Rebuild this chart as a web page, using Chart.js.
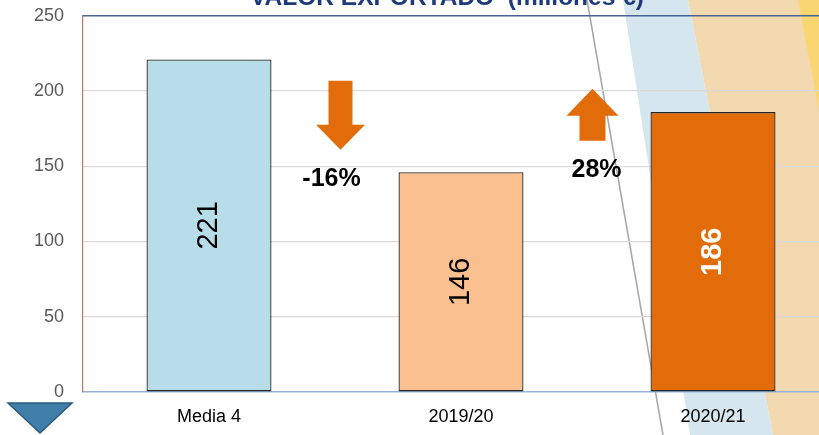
<!DOCTYPE html>
<html>
<head>
<meta charset="utf-8">
<script src="https://cdn.jsdelivr.net/npm/chart.js@4.4.1/dist/chart.umd.min.js"></script>
<style>
  html, body { margin: 0; padding: 0; overflow: hidden; background: #fff; }
  #wrap { position: absolute; left: 0; top: 0; width: 839px; height: 435px; }
</style>
</head>
<body>
<div id="wrap"><canvas id="barCanvas"></canvas></div>
<script>
// valor exportado (millones €)
var categorias = ['Media 4', '2019/20', '2020/21'];
var valores = [221, 146, 186];
var colores = ['#B7DDE8', '#FAC090', '#E36C0A'];
var coloresTexto = ['#000000', '#000000', '#FFFFFF'];
var variaciones = ['-16%', '28%'];
var ticksY = [0, 50, 100, 150, 200, 250];
var titulo = 'VALOR EXPORTADO  (millones €)';

var FONT = '"Liberation Sans", Arial, sans-serif';
var dy = 0; // desplazamiento del canvas para que el area quede en y=16

// fondo decorativo (bandas inclinadas)
var fondoPlugin = {
  id: 'fondo',
  beforeDraw: function (chart) {
    var ctx = chart.ctx;
    ctx.save();
    ctx.translate(0, dy);
    ctx.fillStyle = '#F2D9B0';
    ctx.beginPath();
    ctx.moveTo(688, 0); ctx.lineTo(900, 0); ctx.lineTo(900, 435); ctx.lineTo(773, 435);
    ctx.closePath(); ctx.fill();
    ctx.fillStyle = '#D6E6EE';
    ctx.beginPath();
    ctx.moveTo(623, 0); ctx.lineTo(688, 0); ctx.lineTo(773, 435); ctx.lineTo(690, 435);
    ctx.closePath(); ctx.fill();
    ctx.fillStyle = '#F9D672';
    ctx.beginPath();
    ctx.moveTo(798, 0); ctx.lineTo(900, 0); ctx.lineTo(900, 435); ctx.lineTo(881, 435);
    ctx.closePath(); ctx.fill();
    // linea fina gris
    ctx.strokeStyle = '#A6A6A6';
    ctx.lineWidth = 1.5;
    ctx.beginPath();
    ctx.moveTo(587, 0); ctx.lineTo(663, 435);
    ctx.stroke();
    // titulo (cortado arriba)
    ctx.fillStyle = '#1F3A7A';
    ctx.font = 'bold 24.5px ' + FONT;
    ctx.textAlign = 'center';
    ctx.textBaseline = 'alphabetic';
    ctx.fillText(titulo, 447, 5);
    // triangulo azul abajo izquierda
    ctx.fillStyle = '#3F7FAA';
    ctx.strokeStyle = '#2A5C80';
    ctx.lineWidth = 1.5;
    ctx.beginPath();
    ctx.moveTo(8, 403); ctx.lineTo(72, 403); ctx.lineTo(40, 433);
    ctx.closePath(); ctx.fill(); ctx.stroke();
    ctx.restore();
  },
  beforeDatasetsDraw: function (chart) {
    var ctx = chart.ctx;
    var a = chart.chartArea;
    ctx.save();
    ctx.strokeStyle = '#4A6496';
    ctx.lineWidth = 1.5;
    ctx.beginPath();
    ctx.moveTo(a.left, a.top); ctx.lineTo(a.right, a.top);
    ctx.stroke();
    ctx.restore();
  }
};

// etiquetas y flechas
var etiquetasPlugin = {
  id: 'etiquetas',
  afterDatasetsDraw: function (chart) {
    var ctx = chart.ctx;
    var x = chart.scales.x;
    var y = chart.scales.y;
    var meta = chart.getDatasetMeta(0);
    ctx.save();
    meta.data.forEach(function (bar, i) {
      var cy = (bar.y + bar.base) / 2;
      ctx.save();
      ctx.translate(bar.x, cy);
      ctx.rotate(-Math.PI / 2);
      ctx.fillStyle = coloresTexto[i];
      ctx.font = (i === 2 ? 'bold ' : '') + '29px ' + FONT;
      ctx.textAlign = 'center';
      ctx.textBaseline = 'middle';
      ctx.fillText(String(valores[i]), 0, 0);
      ctx.restore();
    });

    // posiciones de flechas relativas al area del grafico (top = 16 px en la pagina)
    var t = chart.chartArea.top - 16;
    ctx.fillStyle = '#E36C0A';
    // flecha abajo
    var m1 = x.getPixelForValue(0.5) + 5.5;
    ctx.beginPath();
    ctx.moveTo(m1 - 12, t + 81); ctx.lineTo(m1 + 12, t + 81); ctx.lineTo(m1 + 12, t + 125);
    ctx.lineTo(m1 + 24.5, t + 125); ctx.lineTo(m1, t + 150); ctx.lineTo(m1 - 24.5, t + 125);
    ctx.lineTo(m1 - 12, t + 125); ctx.closePath(); ctx.fill();
    // flecha arriba
    var m2 = x.getPixelForValue(1.5) + 5.5;
    ctx.beginPath();
    ctx.moveTo(m2, t + 89); ctx.lineTo(m2 + 26, t + 116); ctx.lineTo(m2 + 13, t + 116);
    ctx.lineTo(m2 + 13, t + 141); ctx.lineTo(m2 - 13, t + 141); ctx.lineTo(m2 - 13, t + 116);
    ctx.lineTo(m2 - 26, t + 116); ctx.closePath(); ctx.fill();

    ctx.fillStyle = '#000000';
    ctx.font = 'bold 25px ' + FONT;
    ctx.textAlign = 'center';
    ctx.textBaseline = 'middle';
    ctx.fillText(variaciones[0], x.getPixelForValue(0.5) - 3.5, t + 179);
    ctx.fillText(variaciones[1], x.getPixelForValue(1.5) + 9.5, t + 170);
    ctx.restore();
  }
};

var ctx = document.getElementById('barCanvas').getContext('2d');
var myBarChart = new Chart(ctx, {
  type: 'bar',
  data: {
    labels: categorias,
    datasets: [{
      data: valores,
      backgroundColor: colores,
      borderColor: '#262626',
      borderWidth: 1.3,
      borderSkipped: false,
      categoryPercentage: 1,
      barPercentage: 0.496
    }]
  },
  options: {
    responsive: true,
    maintainAspectRatio: false,
    animation: false,
    layout: { padding: { top: 16, left: 0, right: 0, bottom: 0 } },
    plugins: {
      legend: { display: false },
      tooltip: { enabled: false }
    },
    scales: {
      x: {
        grid: { display: false, drawTicks: false },
        border: { color: '#95B3D7', width: 1.5 },
        ticks: { color: '#000000', font: { family: FONT, size: 18 }, padding: 14, maxRotation: 0 },
        afterFit: function (s) { s.height = 43; }
      },
      y: {
        min: 0,
        max: 250,
        afterBuildTicks: function (s) { s.ticks = ticksY.map(function (v) { return { value: v }; }); },
        grid: {
          drawTicks: false,
          color: function (c) { return (c.tick && (c.tick.value === 0 || c.tick.value === 250)) ? 'rgba(0,0,0,0)' : '#D9D9D9'; },
          lineWidth: 1.2
        },
        border: { color: '#B97A5F', width: 1.2 },
        ticks: { color: '#595959', font: { family: FONT, size: 18 }, padding: 19 },
        afterFit: function (s) { s.width = 83; }
      }
    }
  },
  plugins: [fondoPlugin, etiquetasPlugin]
});

// corregir la posicion vertical del area (tope en y=16, base en y=392)
dy = Math.round(myBarChart.chartArea.top - 16);
if (dy !== 0) {
  var wrap = document.getElementById('wrap');
  wrap.style.top = (-dy) + 'px';
  wrap.style.height = (435 + dy) + 'px';
  myBarChart.resize(839, 435 + dy);
}
</script>
</body>
</html>
